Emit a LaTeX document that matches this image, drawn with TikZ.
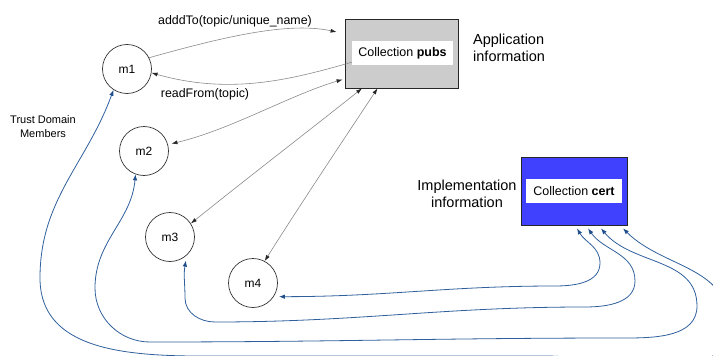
\documentclass[tikz,border=0pt]{standalone}
\usepackage{fontspec}
\setmainfont{Liberation Sans}
\usetikzlibrary{arrows.meta}
\definecolor{pubgray}{HTML}{CCCCCC}
\definecolor{certblue}{HTML}{4040FF}
\definecolor{linkblue}{HTML}{2F5F9C}
\definecolor{tipblue}{HTML}{1F4E8C}
\definecolor{linkgray}{HTML}{8A8A8A}
\tikzset{
  mnode/.style={circle,draw=black!80,line width=0.7pt,minimum size=49pt,inner sep=0pt,font=\fontsize{12}{14}\selectfont},
  outerbox/.style={draw=black!85,line width=0.8pt,minimum width=113pt,minimum height=69pt,inner sep=0pt},
  innerbox/.style={fill=white,minimum height=24pt,inner sep=0pt,font=\fontsize{12.5}{14}\selectfont},
  graylink/.style={draw=linkgray,line width=0.6pt},
  graytip/.style={-{Latex[length=6pt,width=4pt,color=black!85]}},
  graybi/.style={{Latex[length=6pt,width=4pt,color=black!85]}-{Latex[length=6pt,width=4pt,color=black!85]}},
  bluelink/.style={draw=linkblue,line width=0.8pt,{Latex[length=6pt,width=4.5pt,color=tipblue]}-{Latex[length=6pt,width=4.5pt,color=tipblue]}},
  lbl/.style={font=\fontsize{12.4}{14}\selectfont,inner sep=0pt},
  info/.style={font=\fontsize{14.5}{17}\selectfont,inner sep=0pt}
}
\begin{document}
\begin{tikzpicture}[x=1pt,y=-1pt]
\useasboundingbox (0,0) rectangle (713,356);
\clip (0,0) rectangle (713,356);
% member nodes
\node[mnode] (m1) at (127,69) {m1};
\node[mnode] (m2) at (144,151) {m2};
\node[mnode] (m3) at (170,237) {m3};
\node[mnode] (m4) at (253,283) {m4};
% collections
\node[outerbox,fill=pubgray] (pubs) at (401.5,53.5) {};
\node[innerbox,minimum width=101pt] (pubsin) at (402.5,53) {Collection \textbf{pubs}};
\node[outerbox,fill=certblue,minimum width=106pt,minimum height=68pt] (cert) at (574,191) {};
\node[innerbox,minimum width=96pt] (certin) at (574,191) {Collection \textbf{cert}};
% texts
\node[info,anchor=west,align=left] (appinfo) at (473,48) {Application\\information};
\node[info,align=center] (impinfo) at (467,194) {Implementation\\information};
\node[font=\fontsize{11}{14}\selectfont,align=center,inner sep=0pt] (trust) at (43,127) {Trust Domain\\Members};
\node[lbl] (addlbl) at (235,21) {adddTo(topic/unique\_name)};
\node[lbl] (readlbl) at (205,94) {readFrom(topic)};
% gray links
\draw[graylink,graytip] (m1.27) .. controls (230,35) and (290,22) .. ([xshift=-8pt,yshift=21.5pt]pubs.west);
\draw[graylink,graytip] ([yshift=3pt]pubsin.south west) .. controls (290,80) and (230,95) .. (m1.-9);
\draw[graylink,graybi] ([shift={(3pt,3pt)}]m2.10) .. controls (230,130) and (290,95) .. ([xshift=-2pt,yshift=-26pt]pubs.west);
\draw[graylink,graybi] (m3.33) .. controls (255,172) and (320,122) .. ([xshift=-39.5pt]pubs.south);
\draw[graylink,graybi] (m4.62) .. controls (300,205) and (340,145) .. ([xshift=-24pt]pubs.south);
% blue links
\draw[bluelink] ([shift={(3pt,-3pt)}]cert.south) to[out=-60,in=90] (600,263) to[out=-90,in=0] (555,286) to[out=180,in=0] ([shift={(4pt,-2pt)}]m4.-28);
\draw[bluelink] ([shift={(14pt,-3pt)}]cert.south) to[out=-55,in=90] (635,281) to[out=-90,in=0] (585,307) to[out=180,in=0] (215,322) to[out=180,in=-90] (185,298) to[out=90,in=-100] ([shift={(2pt,-3pt)}]m3.-56);
\draw[bluelink] ([shift={(27pt,-3pt)}]cert.south) to[out=-50,in=90] (697,306) to[out=-90,in=0] (625,338) to[out=180,in=0] (150,342) to[out=180,in=-90] (95,288) to[out=90,in=-95] (m2.-110);
\draw[bluelink] ([shift={(49pt,-3pt)}]cert.south) to[out=-45,in=90] (728,322) to[out=-90,in=0] (545,356) to[out=180,in=0] (240,356) to[out=180,in=-90] (40,278) to[out=90,in=-110] (m1.-123);
\end{tikzpicture}
\end{document}
